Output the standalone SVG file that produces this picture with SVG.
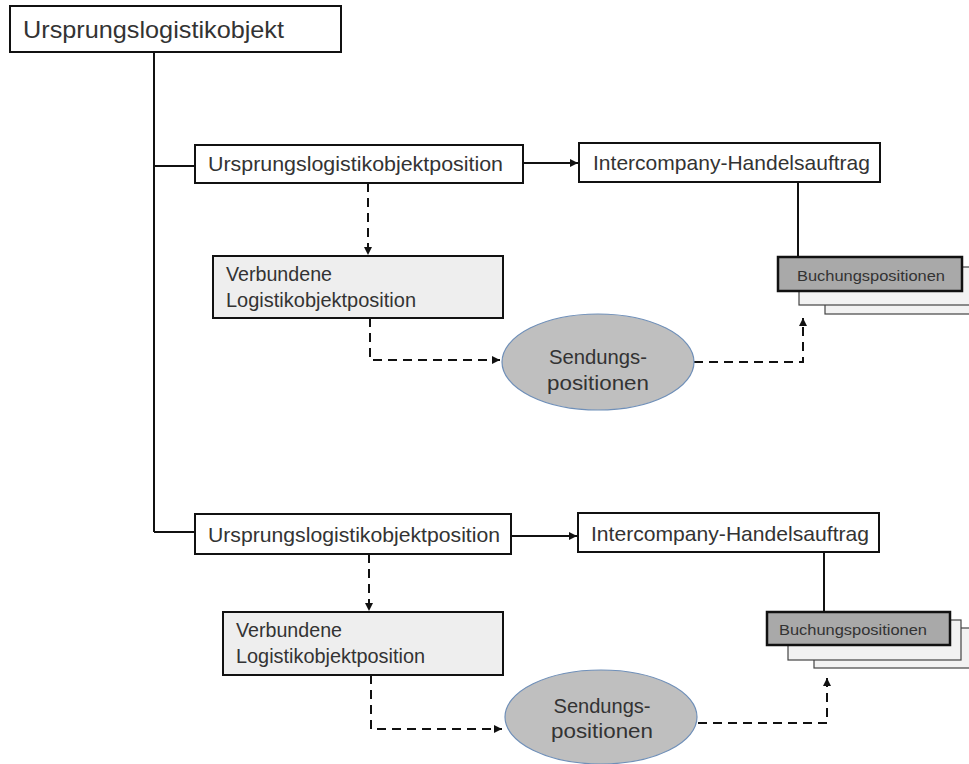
<svg xmlns="http://www.w3.org/2000/svg" width="969" height="764" viewBox="0 0 969 764">
<defs>
<marker id="ah" markerUnits="userSpaceOnUse" markerWidth="9" markerHeight="8" refX="8" refY="4" orient="auto">
<path d="M0,0 L8,4 L0,8 Z" fill="#111"/>
</marker>
</defs>
<style>
.box{fill:#fff;stroke:#111;stroke-width:2}
.vb{fill:#eeeeee;stroke:#111;stroke-width:2}
.bu{fill:#a9a9a9;stroke:#111;stroke-width:2.5}
.bk{fill:#f2f2f2;stroke:#444;stroke-width:1.2}
.el{fill:#bfbfbf;stroke:#6f8fb8;stroke-width:1.2}
.t{font-family:"Liberation Sans",Arial,sans-serif;fill:#333}
.ln{fill:none;stroke:#111;stroke-width:2}
.ds{fill:none;stroke:#111;stroke-width:2;stroke-dasharray:9 6}
</style>
<rect width="969" height="764" fill="#fff"/>

<g id="connectors">
<path class="ln" d="M154,52 V532 M154,166 H195 M154,532 H195"/>
<path class="ln" d="M523,163 H578" marker-end="url(#ah)"/>
<path class="ln" d="M798,182 V257"/>
<path class="ds" d="M368,183 V255" marker-end="url(#ah)"/>
<path class="ds" d="M370,318 V360 H500" marker-end="url(#ah)"/>
<path class="ds" d="M694,362 H803 V318" marker-end="url(#ah)"/>
<path class="ln" d="M511,536 H577" marker-end="url(#ah)"/>
<path class="ln" d="M824,552 V612"/>
<path class="ds" d="M369,554 V611" marker-end="url(#ah)"/>
<path class="ds" d="M371,675 V729 H502" marker-end="url(#ah)"/>
<path class="ds" d="M698,723 H827 V678" marker-end="url(#ah)"/>
</g>

<g id="root">
<rect class="box" x="10" y="6" width="331" height="46"/>
<text class="t" x="23" y="38" font-size="24" textLength="261" lengthAdjust="spacingAndGlyphs">Ursprungslogistikobjekt</text>
</g>

<g id="pos1">
<rect class="box" x="195" y="145" width="328" height="38"/>
<text class="t" x="208" y="171" font-size="21" textLength="295" lengthAdjust="spacingAndGlyphs">Ursprungslogistikobjektposition</text>
</g>
<g id="ic1">
<rect class="box" x="579" y="143" width="301" height="39"/>
<text class="t" x="593" y="170" font-size="21" textLength="277" lengthAdjust="spacingAndGlyphs">Intercompany-Handelsauftrag</text>
</g>
<g id="vb1">
<rect class="vb" x="213" y="256" width="290" height="62"/>
<text class="t" x="226" y="281" font-size="20" textLength="106" lengthAdjust="spacingAndGlyphs">Verbundene</text>
<text class="t" x="226" y="307" font-size="20" textLength="190" lengthAdjust="spacingAndGlyphs">Logistikobjektposition</text>
</g>
<g id="se1">
<ellipse class="el" cx="598" cy="362" rx="96" ry="48"/>
<text class="t" x="598" y="364" font-size="21" text-anchor="middle" textLength="98" lengthAdjust="spacingAndGlyphs">Sendungs-</text>
<text class="t" x="598" y="390" font-size="21" text-anchor="middle" textLength="102" lengthAdjust="spacingAndGlyphs">positionen</text>
</g>
<g id="bu1">
<rect class="bk" x="825" y="276" width="160" height="38"/>
<rect class="bk" x="799" y="267" width="180" height="38"/>
<rect class="bu" x="778" y="257" width="184" height="34"/>
<text class="t" x="797" y="281" font-size="15" textLength="148" lengthAdjust="spacingAndGlyphs">Buchungspositionen</text>
</g>

<g id="pos2">
<rect class="box" x="195" y="514" width="316" height="40"/>
<text class="t" x="208" y="542" font-size="21" textLength="292" lengthAdjust="spacingAndGlyphs">Ursprungslogistikobjektposition</text>
</g>
<g id="ic2">
<rect class="box" x="578" y="513" width="301" height="39"/>
<text class="t" x="591" y="541" font-size="21" textLength="278" lengthAdjust="spacingAndGlyphs">Intercompany-Handelsauftrag</text>
</g>
<g id="vb2">
<rect class="vb" x="223" y="612" width="280" height="63"/>
<text class="t" x="236" y="637" font-size="20" textLength="106" lengthAdjust="spacingAndGlyphs">Verbundene</text>
<text class="t" x="236" y="663" font-size="20" textLength="189" lengthAdjust="spacingAndGlyphs">Logistikobjektposition</text>
</g>
<g id="se2">
<ellipse class="el" cx="601" cy="717" rx="96" ry="47"/>
<text class="t" x="602" y="713" font-size="21" text-anchor="middle" textLength="97" lengthAdjust="spacingAndGlyphs">Sendungs-</text>
<text class="t" x="602" y="738" font-size="21" text-anchor="middle" textLength="102" lengthAdjust="spacingAndGlyphs">positionen</text>
</g>
<g id="bu2">
<rect class="bk" x="814" y="628" width="160" height="40"/>
<rect class="bk" x="788" y="620" width="173" height="40"/>
<rect class="bu" x="767" y="612" width="183" height="33"/>
<text class="t" x="779" y="635" font-size="15" textLength="148" lengthAdjust="spacingAndGlyphs">Buchungspositionen</text>
</g>
</svg>
